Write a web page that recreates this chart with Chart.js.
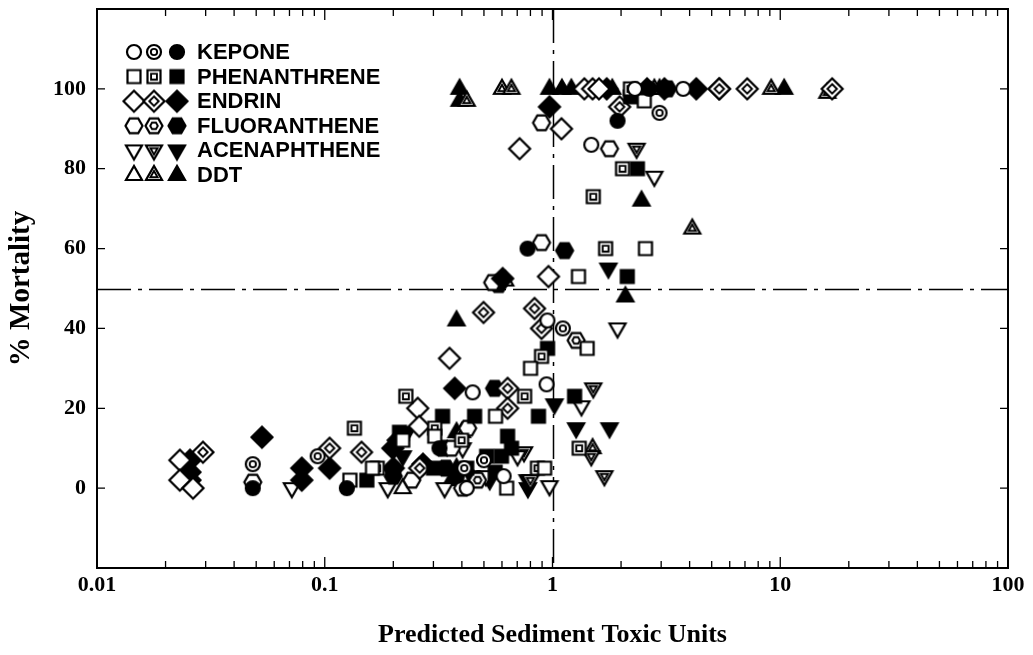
<!DOCTYPE html>
<html><head><meta charset="utf-8">
<script src="https://cdn.jsdelivr.net/npm/chart.js@4/dist/chart.umd.min.js"></script>
<style>html,body{margin:0;padding:0;background:#fff}canvas{display:block}</style>
</head><body>
<canvas id="c" width="1033" height="655"></canvas>
<script>
// ---------- DATA ----------
const chemicals = ["KEPONE", "PHENANTHRENE", "ENDRIN", "FLUORANTHENE", "ACENAPHTHENE", "DDT"];
const variants = ["open", "double", "filled"];
const xTickValues = [0.01, 0.1, 1, 10, 100];
const xTickLabels = ["0.01", "0.1", "1", "10", "100"];
const yTickValues = [0, 20, 40, 60, 80, 100];
const referenceX = 1;
const referenceY = 50;
const xTitle = "Predicted Sediment Toxic Units";
const yTitle = "% Mortality";

// [toxic units, % mortality]
const keponeOpen = [[1.48,86],[0.942,26],[0.446,24],[3.75,100],[0.95,42],[0.61,3],[0.42,0],[2.3,100]];
const keponeDouble = [[0.0483,6],[0.0931,8],[1.11,40],[2.95,94],[0.50,7],[0.41,5]];
const keponeFilled = [[0.0483,0],[0.125,0],[0.777,60],[1.93,92],[0.319,10],[0.20,4],[0.38,3],[2.66,100]];

const phenOpen = [[2.53,97],[2.56,60],[1.30,53],[1.42,35],[0.801,30],[0.562,18],[0.304,13],[0.162,5],[0.129,2],[0.923,5],[0.629,0],[0.22,12]];
const phenDouble = [[2.03,80],[1.51,73],[1.71,60],[0.895,33],[0.754,23],[0.227,23],[0.135,15],[0.304,15],[0.399,12],[0.859,5],[1.31,10],[0.17,5],[2.2,100]];
const phenFilled = [[2.36,80],[2.13,53],[2.2,98],[0.951,35],[1.25,23],[0.329,18],[0.455,18],[0.868,18],[0.635,13],[0.661,10],[0.514,8],[0.597,8],[0.153,2],[0.213,14],[0.42,5],[0.30,5],[0.56,4]];

const endrinOpen = [[0.0231,7],[0.0231,2],[0.0264,0],[0.717,85],[1.095,90],[0.960,53],[0.353,32.5],[0.256,20],[0.26,15.5],[1.38,100],[1.50,100],[1.6,100]];
const endrinDouble = [[0.0292,9],[0.105,10],[0.145,9],[0.498,44],[0.834,45],[0.895,40],[0.635,25],[0.635,20],[0.261,5],[1.97,95.5],[5.40,100],[7.16,100],[16.9,100]];
const endrinFilled = [[0.0256,7],[0.0256,4],[0.0256,2],[0.053,12.75],[0.0793,5],[0.0793,2],[0.105,5],[0.199,10],[0.2,5],[0.372,25],[0.604,52.5],[0.97,95.5],[1.73,100],[2.6,100],[3.1,100],[4.28,100],[5.40,100],[0.21,12],[0.27,6]];

const fluorOpen = [[0.895,91.5],[1.78,85],[0.895,61.5],[0.546,51.5],[0.424,15],[0.36,10],[0.241,2],[0.403,0],[0.0483,1.5]];
const fluorDouble = [[1.27,37],[0.469,2]];
const fluorFilled = [[1.13,59.5],[0.557,25],[0.58,51],[0.33,10],[0.2,3],[3.2,100],[0.34,5]];

const acenOpen = [[0.0717,0],[2.80,78],[1.93,40],[1.34,20.5],[0.97,0.5],[0.189,0],[0.336,0],[0.403,10],[0.702,8],[0.51,3]];
const acenDouble = [[2.34,85],[1.51,25],[1.48,8],[1.69,3],[0.75,9],[0.80,2]];
const acenFilled = [[1.76,55],[1.02,21],[1.27,15],[1.78,15],[0.777,2],[0.78,0],[0.530,2],[0.23,14],[0.44,3],[0.22,8]];

const ddtOpen = [[0.22,0],[0.62,52],[0.45,2]];
const ddtDouble = [[0.42,97],[0.60,100],[0.66,100],[2.80,100],[9.13,100],[16.1,99],[4.11,65],[1.50,10],[0.40,14]];
const ddtFilled = [[0.391,100],[0.391,97],[0.97,100],[1.1,100],[1.21,100],[1.83,100],[2.95,100],[10.4,100],[2.46,72],[2.09,48],[0.379,42],[0.379,14],[0.379,5],[0.36,2]];

const seriesTable = [
  [keponeOpen, keponeDouble, keponeFilled],
  [phenOpen, phenDouble, phenFilled],
  [endrinOpen, endrinDouble, endrinFilled],
  [fluorOpen, fluorDouble, fluorFilled],
  [acenOpen, acenDouble, acenFilled],
  [ddtOpen, ddtDouble, ddtFilled]
];
const shapes = ["circle", "square", "diamond", "hexagon", "triDown", "triUp"];

// ---------- MARKERS ----------
function shapePath(g, shape, k) {
  g.beginPath();
  if (shape === "circle") { g.arc(0, 0, 7 * k, 0, Math.PI * 2); }
  else if (shape === "square") { g.rect(-6.5 * k, -6.5 * k, 13 * k, 13 * k); }
  else if (shape === "diamond") { g.moveTo(0, -10.5 * k); g.lineTo(10.5 * k, 0); g.lineTo(0, 10.5 * k); g.lineTo(-10.5 * k, 0); }
  else if (shape === "hexagon") {
    for (let i = 0; i < 6; i++) {
      const a = i * Math.PI / 3;
      const px = 8.5 * k * Math.cos(a), py = 8.5 * k * Math.sin(a);
      i ? g.lineTo(px, py) : g.moveTo(px, py);
    }
  }
  else if (shape === "triDown") { g.moveTo(-8 * k, -5 * k); g.lineTo(8 * k, -5 * k); g.lineTo(0, 9 * k); }
  else if (shape === "triUp") { g.moveTo(-8 * k, 5 * k); g.lineTo(8 * k, 5 * k); g.lineTo(0, -9 * k); }
  g.closePath();
}
function makeMarker(shape, variant) {
  const S = 28;
  const c = document.createElement("canvas");
  c.width = S; c.height = S;
  const g = c.getContext("2d");
  g.translate(S / 2, S / 2);
  g.lineJoin = "miter";
  g.strokeStyle = "#000";
  g.lineWidth = 2.2;
  g.fillStyle = variant === "filled" ? "#000" : "#fff";
  shapePath(g, shape, 1);
  g.fill(); g.stroke();
  if (variant === "double") {
    g.lineWidth = 1.9;
    shapePath(g, shape, 0.45);
    g.stroke();
  }
  return c;
}
const markers = shapes.map(s => variants.map(v => makeMarker(s, v)));

const datasets = [];
chemicals.forEach((chem, i) => {
  variants.forEach((v, j) => {
    datasets.push({
      label: chem + " (" + v + ")",
      data: seriesTable[i][j].map(p => ({ x: p[0], y: p[1] })),
      pointStyle: markers[i][j],
      pointRadius: 8,
      pointHoverRadius: 8
    });
  });
});

// ---------- PLUGIN: frame, inward ticks, reference lines, legend ----------
const decorations = {
  id: "decorations",
  beforeDatasetsDraw(chart) {
    const { ctx, chartArea: a, scales: { x, y } } = chart;
    ctx.save();
    ctx.strokeStyle = "#000";
    ctx.lineWidth = 1.5;
    ctx.setLineDash([34, 7, 4, 7]);
    const px = Math.round(x.getPixelForValue(referenceX)) + 0.5;
    ctx.beginPath(); ctx.moveTo(px, a.top); ctx.lineTo(px, a.bottom); ctx.stroke();
    const py = Math.round(y.getPixelForValue(referenceY)) + 0.5;
    ctx.beginPath(); ctx.moveTo(a.left, py); ctx.lineTo(a.right, py); ctx.stroke();
    ctx.restore();
  },
  afterDatasetsDraw(chart) {
    const { ctx, chartArea: a, scales: { x, y } } = chart;
    ctx.save();
    ctx.strokeStyle = "#000";
    ctx.lineWidth = 2;
    ctx.strokeRect(a.left, a.top, a.right - a.left, a.bottom - a.top);
    ctx.lineWidth = 1.3;
    ctx.beginPath();
    yTickValues.forEach(v => {
      const p = y.getPixelForValue(v);
      ctx.moveTo(a.left, p); ctx.lineTo(a.left + 8, p);
      ctx.moveTo(a.right, p); ctx.lineTo(a.right - 8, p);
    });
    for (let d = 0; d < xTickValues.length - 1; d++) {
      for (let m = 1; m <= 9; m++) {
        if (m === 1 && d === 0) continue;
        const v = xTickValues[d] * m;
        const p = x.getPixelForValue(v);
        const len = m === 1 ? 11 : 7;
        ctx.moveTo(p, a.bottom); ctx.lineTo(p, a.bottom - len);
        ctx.moveTo(p, a.top); ctx.lineTo(p, a.top + len);
      }
    }
    ctx.stroke();
    // legend
    const lx = a.left + 37, ly = a.top + 43, pitch = 24.6;
    chemicals.forEach((chem, i) => {
      const cy = ly + i * pitch;
      [0, 20, 43].forEach((dx, j) => {
        const m = markers[i][j];
        ctx.drawImage(m, lx + dx - m.width / 2, cy - m.height / 2);
      });
      ctx.fillStyle = "#000";
      ctx.font = 'bold 22px "Liberation Sans", Arial, sans-serif';
      ctx.textBaseline = "middle";
      ctx.textAlign = "left";
      ctx.fillText(chem, lx + 63, cy + 1);
    });
    ctx.restore();
  }
};

const serif = '"Liberation Serif", "Times New Roman", serif';
new Chart(document.getElementById("c"), {
  type: "scatter",
  data: { datasets },
  options: {
    responsive: false,
    devicePixelRatio: 1,
    animation: false,
    events: [],
    layout: { padding: { top: 8, right: 25, left: 0, bottom: 0 } },
    plugins: { legend: { display: false }, tooltip: { enabled: false } },
    scales: {
      x: {
        type: "logarithmic",
        min: 0.01, max: 100,
        grid: { display: false, drawTicks: false },
        border: { display: false },
        afterBuildTicks: s => { s.ticks = xTickValues.map(v => ({ value: v })); },
        afterFit: s => { s.height = 87; s.paddingLeft = 0; s.paddingRight = 0; },
        ticks: {
          autoSkip: false, maxRotation: 0, padding: 4, color: "#000",
          font: { family: serif, size: 22, weight: "bold" },
          callback: (v, i) => xTickLabels[i]
        },
        title: {
          display: true, text: xTitle, color: "#000",
          font: { family: serif, size: 26, weight: "bold" },
          padding: { top: 0, bottom: 4 }
        }
      },
      y: {
        min: -20, max: 120,
        grid: { display: false, drawTicks: false },
        border: { display: false },
        afterFit: s => { s.width = 97; s.paddingTop = 0; s.paddingBottom = 0; },
        ticks: {
          stepSize: 20, padding: 11, color: "#000",
          font: { family: serif, size: 22, weight: "bold" },
          callback: v => (yTickValues.includes(v) ? String(v) : "")
        },
        title: {
          display: true, text: yTitle, color: "#000",
          font: { family: serif, size: 29, weight: "bold" },
          padding: { top: 4, bottom: 0 }
        }
      }
    }
  },
  plugins: [decorations]
});
</script>
</body></html>
